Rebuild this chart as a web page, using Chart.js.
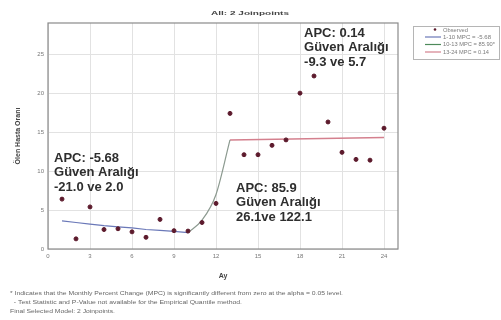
<!DOCTYPE html>
<html>
<head>
<meta charset="utf-8">
<script src="https://cdn.jsdelivr.net/npm/chart.js@4/dist/chart.umd.min.js"></script>
<style>
  html, body { margin: 0; padding: 0; background: #fff; }
  #wrap { position: relative; width: 501px; height: 320px; }
</style>
</head>
<body>
<div id="wrap"><canvas id="c" width="501" height="320"></canvas></div>
<script>
// Monthly observed death rate (Ölen Hasta Oranı) by month (Ay)
const months = [1, 2, 3, 4, 5, 6, 7, 8, 9, 10, 11, 12, 13, 14, 15, 16, 17, 18, 19, 20, 21, 22, 23, 24];
const observed = [6.4, 1.3, 5.4, 2.5, 2.6, 2.2, 1.5, 3.8, 2.35, 2.3, 3.4, 5.85, 17.4, 12.1, 12.1, 13.3, 14.0, 20.0, 22.2, 16.3, 12.4, 11.5, 11.4, 15.5];

// Joinpoint model fit, one segment per trend
const seg1Months = [1, 2, 3, 4, 5, 6, 7, 8, 9, 10];
const seg1Fit = [3.6, 3.4, 3.2, 3.0, 2.85, 2.7, 2.5, 2.4, 2.25, 2.1];
const seg2Months = [10, 11, 12, 13];
const seg2Fit = [2.1, 3.7, 7.0, 14.0];
const seg3Months = [13, 24];
const seg3Fit = [14.0, 14.3];

const xTicks = [0, 3, 6, 9, 12, 15, 18, 21, 24];
const yTicks = [0, 5, 10, 15, 20, 25];

const legendLabels = ['Observed', '1-10 MPC = -5.68', '10-13 MPC = 85.90*', '13-24 MPC = 0.14'];
const annotations = [
  { x: 0.43, y: 11.66, lines: ['APC: -5.68', 'Güven Aralığı', '-21.0 ve 2.0'] },
  { x: 13.43, y: 7.79, lines: ['APC: 85.9', 'Güven Aralığı', '26.1ve 122.1'] },
  { x: 18.29, y: 27.67, lines: ['APC: 0.14', 'Güven Aralığı', '-9.3 ve 5.7'] }
];
const footnotes = [
  '* Indicates that the Monthly Percent Change (MPC) is significantly different from zero at the alpha = 0.05 level.',
  '  - Test Statistic and P-Value not available for the Empirical Quantile method.',
  'Final Selected Model: 2 Joinpoints.'
];

const pointColor = '#5c1a2c';
const seg1Color = '#6a78b8';
const seg2Color = '#8c9a90';
const seg3Color = '#d4808e';

const toXY = (xs, ys) => xs.map((x, i) => ({ x: x, y: ys[i] }));

// small print is drawn in a narrow font and stretched to its set width
function stretchText(ctx, text, x, y, width) {
  const w = ctx.measureText(text).width;
  ctx.save();
  ctx.translate(x, y);
  ctx.scale(width / w, 1);
  ctx.fillText(text, 0, 0);
  ctx.restore();
}

const decorations = {
  id: 'decorations',
  afterDatasetsDraw(chart) {
    const { ctx, chartArea: a, scales } = chart;
    ctx.save();
    // plot frame
    ctx.strokeStyle = '#8a8a8a';
    ctx.lineWidth = 1.2;
    ctx.strokeRect(a.left, a.top, a.right - a.left, a.bottom - a.top);

    // text boxes inside the plot
    ctx.fillStyle = '#2e2e2e';
    ctx.font = 'bold 13px "Liberation Sans", Arial, sans-serif';
    ctx.textBaseline = 'middle';
    ctx.textAlign = 'left';
    annotations.forEach(an => {
      const px = scales.x.getPixelForValue(an.x);
      const py = scales.y.getPixelForValue(an.y);
      an.lines.forEach((t, i) => ctx.fillText(t, px, py + i * 14.5));
    });
    ctx.restore();
  },
  afterDraw(chart) {
    const { ctx } = chart;
    ctx.save();
    ctx.textAlign = 'left';
    ctx.textBaseline = 'middle';

    // title
    ctx.fillStyle = '#444';
    ctx.font = 'bold 6px "Liberation Sans", Arial, sans-serif';
    stretchText(ctx, 'All: 2 Joinpoints', 211, 13, 78);

    // legend box
    ctx.strokeStyle = '#b5b5b5';
    ctx.lineWidth = 1;
    ctx.strokeRect(413.5, 26.5, 86, 33);
    ctx.fillStyle = pointColor;
    ctx.beginPath();
    ctx.arc(435, 29.5, 1.3, 0, Math.PI * 2);
    ctx.fill();
    const swatch = [seg1Color, '#4e8a5a', seg3Color];
    [37, 44.5, 52].forEach((y, i) => {
      ctx.strokeStyle = swatch[i];
      ctx.lineWidth = 1.2;
      ctx.beginPath();
      ctx.moveTo(425, y);
      ctx.lineTo(441, y);
      ctx.stroke();
    });
    ctx.fillStyle = '#7a7a7a';
    ctx.font = '5.5px "Liberation Sans", Arial, sans-serif';
    const legendWidths = [25, 48, 52, 46];
    [30, 37, 44.5, 52].forEach((y, i) => stretchText(ctx, legendLabels[i], 443, y, legendWidths[i]));

    // footnotes
    ctx.fillStyle = '#666';
    ctx.font = '5.5px "Liberation Sans", Arial, sans-serif';
    const noteX = [10, 10, 10];
    const noteW = [333, 232, 105];
    [293, 302, 311].forEach((y, i) => stretchText(ctx, footnotes[i], noteX[i], y, noteW[i]));
    ctx.restore();
  }
};

new Chart(document.getElementById('c'), {
  type: 'scatter',
  data: {
    datasets: [
      {
        label: legendLabels[0],
        data: toXY(months, observed),
        backgroundColor: pointColor,
        borderColor: pointColor,
        pointRadius: 2,
        showLine: false,
        order: 0
      },
      {
        label: legendLabels[1],
        data: toXY(seg1Months, seg1Fit),
        borderColor: seg1Color,
        borderWidth: 1.2,
        pointRadius: 0,
        showLine: true,
        order: 1
      },
      {
        label: legendLabels[2],
        data: toXY(seg2Months, seg2Fit),
        borderColor: seg2Color,
        borderWidth: 1.2,
        pointRadius: 0,
        showLine: true,
        cubicInterpolationMode: 'monotone',
        order: 1
      },
      {
        label: legendLabels[3],
        data: toXY(seg3Months, seg3Fit),
        borderColor: seg3Color,
        borderWidth: 1.5,
        pointRadius: 0,
        showLine: true,
        order: 1
      }
    ]
  },
  options: {
    responsive: false,
    animation: false,
    events: [],
    layout: { padding: { left: 12, top: 23, right: 103, bottom: 38 } },
    plugins: {
      legend: { display: false },
      title: { display: false },
      tooltip: { enabled: false }
    },
    scales: {
      x: {
        type: 'linear',
        min: 0,
        max: 25,
        afterBuildTicks: s => { s.ticks = xTicks.map(v => ({ value: v })); },
        afterFit: s => { s.height = 33; },
        ticks: { color: '#777', font: { size: 6, family: 'Liberation Sans' }, padding: 4 },
        grid: { color: '#e2e2e2', lineWidth: 1, drawTicks: false },
        border: { display: false },
        title: {
          display: true,
          text: 'Ay',
          color: '#444',
          font: { size: 7, weight: 'bold', family: 'Liberation Sans' },
          padding: { top: 0, bottom: 2 }
        }
      },
      y: {
        type: 'linear',
        min: 0,
        max: 29,
        afterBuildTicks: s => { s.ticks = yTicks.map(v => ({ value: v })); },
        afterFit: s => { s.width = 36; },
        ticks: { color: '#777', font: { size: 6, family: 'Liberation Sans' }, padding: 4 },
        grid: { color: '#e2e2e2', lineWidth: 1, drawTicks: false },
        border: { display: false },
        title: {
          display: true,
          text: 'Ölen Hasta Oranı',
          color: '#444',
          font: { size: 7, weight: 'bold', family: 'Liberation Sans' },
          padding: { top: 2, bottom: 0 }
        }
      }
    }
  },
  plugins: [decorations]
});
</script>
</body>
</html>
